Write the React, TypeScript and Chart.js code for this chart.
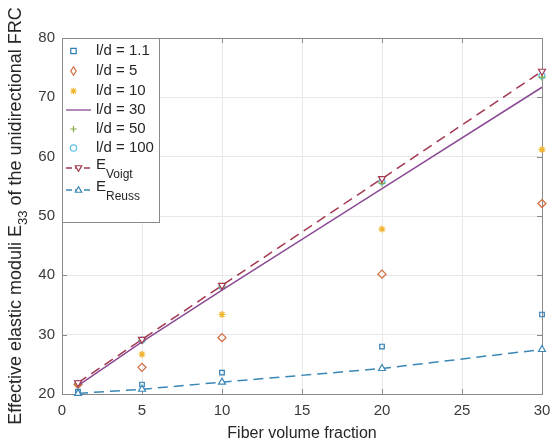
import React, { useEffect, useRef } from "react";
import { Chart, registerables } from "chart.js";

Chart.register(...registerables);

const fraction = [1, 5, 10, 20, 30];
const ld1_1 = [20.4, 21.6, 23.6, 28.0, 33.4];
const ld5 = [21.6, 24.5, 29.5, 40.2, 52.1];
const ld10 = [21.7, 26.7, 33.4, 47.8, 61.2];
const ld30 = [21.4, 28.8, 37.5, 54.6, 71.7];
const ld50 = [21.7, 29.0, 38.0, 55.5, 73.4];
const ld100 = [21.8, 29.1, 38.1, 55.8, 73.6];
const voigt = [21.9, 29.2, 38.3, 56.3, 74.4];
const reuss = [20.1, 20.8, 22.0, 24.3, 27.5];
const xTicks = [0, 5, 10, 15, 20, 25, 30];
const yTicks = [20, 30, 40, 50, 60, 70, 80];

const C_BLUE = "#2b7db5";
const C_ORANGE = "#d2683b";
const C_YELLOW = "#efb52d";
const C_PURPLE = "#8a4a94";
const C_GREEN = "#84ad45";
const C_LBLUE = "#5ec0e6";
const C_RED = "#a2394f";
const C_REUSS = "#3a87b5";

const FONT = "'Liberation Sans', Arial, Helvetica, sans-serif";

const pts = (ys: number[]) => fraction.map((x, i) => ({ x, y: ys[i] }));

type Item = { label: string; sub?: string; color: string; marker?: string; line?: boolean; dash?: boolean };
const legendItems: Item[] = [
  { label: "l/d = 1.1", color: C_BLUE, marker: "square" },
  { label: "l/d = 5", color: C_ORANGE, marker: "diamond" },
  { label: "l/d = 10", color: C_YELLOW, marker: "star" },
  { label: "l/d = 30", color: C_PURPLE, line: true },
  { label: "l/d = 50", color: C_GREEN, marker: "plus" },
  { label: "l/d = 100", color: C_LBLUE, marker: "circle" },
  { label: "E", sub: "Voigt", color: C_RED, marker: "tridown", line: true, dash: true },
  { label: "E", sub: "Reuss", color: C_REUSS, marker: "triup", line: true, dash: true },
];

function drawMarker(ctx: CanvasRenderingContext2D, kind: string, x: number, y: number, color: string) {
  ctx.save();
  ctx.strokeStyle = color;
  ctx.lineWidth = 1.2;
  ctx.setLineDash([]);
  ctx.beginPath();
  const r = 3.2;
  if (kind === "square") ctx.rect(x - r + 0.5, y - r + 0.5, 2 * r - 1, 2 * r - 1);
  else if (kind === "diamond") {
    ctx.moveTo(x, y - r - 1); ctx.lineTo(x + r - 0.5, y); ctx.lineTo(x, y + r + 1); ctx.lineTo(x - r + 0.5, y); ctx.closePath();
  } else if (kind === "star") {
    for (let a = 0; a < 4; a++) {
      const t = (a * Math.PI) / 4;
      ctx.moveTo(x - r * Math.cos(t), y - r * Math.sin(t));
      ctx.lineTo(x + r * Math.cos(t), y + r * Math.sin(t));
    }
  } else if (kind === "plus") {
    ctx.moveTo(x - r, y); ctx.lineTo(x + r, y); ctx.moveTo(x, y - r); ctx.lineTo(x, y + r);
  } else if (kind === "circle") ctx.arc(x, y, r, 0, Math.PI * 2);
  else if (kind === "tridown") {
    ctx.moveTo(x - r, y - r * 0.7); ctx.lineTo(x + r, y - r * 0.7); ctx.lineTo(x, y + r); ctx.closePath();
    ctx.fillStyle = "#fff"; ctx.fill();
  } else if (kind === "triup") {
    ctx.moveTo(x - r, y + r * 0.7); ctx.lineTo(x + r, y + r * 0.7); ctx.lineTo(x, y - r); ctx.closePath();
    ctx.fillStyle = "#fff"; ctx.fill();
  }
  ctx.stroke();
  ctx.restore();
}

const decorPlugin = {
  id: "decor",
  beforeDatasetsDraw(chart: any) {
    const ctx: CanvasRenderingContext2D = chart.ctx;
    const a = chart.chartArea;
    const xs = chart.scales.x;
    const ys = chart.scales.y;
    ctx.save();
    ctx.strokeStyle = "#8a8a8a";
    ctx.lineWidth = 1;
    ctx.strokeRect(Math.round(a.left) + 0.5, Math.round(a.top) + 0.5, Math.round(a.right - a.left), Math.round(a.bottom - a.top));
    ctx.beginPath();
    xTicks.forEach((v) => {
      const px = Math.round(xs.getPixelForValue(v)) + 0.5;
      ctx.moveTo(px, a.bottom); ctx.lineTo(px, a.bottom - 5);
      ctx.moveTo(px, a.top); ctx.lineTo(px, a.top + 5);
    });
    yTicks.forEach((v) => {
      const py = Math.round(ys.getPixelForValue(v)) + 0.5;
      ctx.moveTo(a.left, py); ctx.lineTo(a.left + 5, py);
      ctx.moveTo(a.right, py); ctx.lineTo(a.right - 5, py);
    });
    ctx.stroke();
    ctx.restore();
  },
  afterDatasetsDraw(chart: any) {
    const ctx: CanvasRenderingContext2D = chart.ctx;
    const a = chart.chartArea;
    ctx.save();
    // legend
    const lx = Math.round(a.left) + 0.5;
    const ly = Math.round(a.top) + 0.5;
    const lw = 97;
    const lh = 184;
    ctx.fillStyle = "#fff";
    ctx.fillRect(lx, ly, lw, lh);
    ctx.strokeStyle = "#8a8a8a";
    ctx.lineWidth = 1;
    ctx.strokeRect(lx, ly, lw, lh);
    const rowsY = [51, 71, 91, 110, 129, 148, 168, 190];
    legendItems.forEach((it, i) => {
      const y = rowsY[i];
      if (it.line) {
        ctx.save();
        ctx.strokeStyle = it.color;
        ctx.lineWidth = 1.3;
        ctx.setLineDash(it.dash ? [6, 3] : []);
        ctx.beginPath();
        ctx.moveTo(66, y); ctx.lineTo(91, y);
        ctx.stroke();
        ctx.restore();
        if (it.marker) drawMarker(ctx, it.marker, 78.5, y, it.color);
      } else if (it.marker) {
        drawMarker(ctx, it.marker, 73.5, y, it.color);
      }
      ctx.fillStyle = "#262626";
      ctx.textBaseline = "middle";
      ctx.textAlign = "left";
      ctx.font = `15px ${FONT}`;
      if (it.sub) {
        ctx.fillText(it.label, 96, y - 3);
        const w = ctx.measureText(it.label).width;
        ctx.font = `12px ${FONT}`;
        ctx.fillText(it.sub, 96 + w, y + 7);
      } else {
        ctx.fillText(it.label, 96, y);
      }
    });

    // y axis title with subscript
    const p1 = "Effective elastic moduli E";
    const p2 = "33";
    const p3 = " of the unidirectional FRC";
    ctx.font = `18px ${FONT}`;
    const w1 = ctx.measureText(p1).width;
    const w3 = ctx.measureText(p3).width;
    ctx.font = `13px ${FONT}`;
    const w2 = ctx.measureText(p2).width;
    const total = w1 + w2 + w3;
    ctx.translate(16, (a.top + a.bottom) / 2);
    ctx.rotate(-Math.PI / 2);
    ctx.fillStyle = "#262626";
    ctx.textBaseline = "middle";
    ctx.textAlign = "left";
    let cx = -total / 2;
    ctx.font = `18px ${FONT}`;
    ctx.fillText(p1, cx, 0);
    cx += w1;
    ctx.font = `13px ${FONT}`;
    ctx.fillText(p2, cx, 7);
    cx += w2;
    ctx.font = `18px ${FONT}`;
    ctx.fillText(p3, cx, 0);
    ctx.restore();
  },
};

export default function App() {
  const ref = useRef<HTMLCanvasElement | null>(null);
  useEffect(() => {
    if (!ref.current) return;
    const markerDs = (label: string, data: number[], color: string, style: any, extra: any = {}) => ({
      label,
      data: pts(data),
      showLine: false,
      clip: false,
      borderColor: color,
      backgroundColor: "rgba(0,0,0,0)",
      pointStyle: style,
      pointRadius: 3.5,
      pointBorderWidth: 1.2,
      ...extra,
    });
    const chart = new Chart(ref.current, {
      type: "scatter",
      data: {
        datasets: [
          {
            label: "E Reuss",
            data: pts(reuss),
            showLine: true,
            clip: false,
            borderColor: C_REUSS,
            borderWidth: 1.5,
            borderDash: [10, 6],
            backgroundColor: "#fff",
            pointStyle: "triangle",
            pointRadius: 4,
            pointBorderWidth: 1.2,
          },
          {
            label: "E Voigt",
            data: pts(voigt),
            showLine: true,
            clip: false,
            borderColor: C_RED,
            borderWidth: 1.5,
            borderDash: [10, 6],
            backgroundColor: "#fff",
            pointStyle: "triangle",
            rotation: 180,
            pointRadius: 4,
            pointBorderWidth: 1.2,
          },
          {
            label: "l/d = 30",
            data: pts(ld30),
            showLine: true,
            clip: false,
            borderColor: C_PURPLE,
            borderWidth: 1.5,
            pointRadius: 0,
          },
          markerDs("l/d = 1.1", ld1_1, C_BLUE, "rect", { pointRadius: 3.2 }),
          markerDs("l/d = 5", ld5, C_ORANGE, "rectRot", { pointRadius: 4 }),
          markerDs("l/d = 10", ld10, C_YELLOW, "star"),
          markerDs("l/d = 50", ld50, C_GREEN, "cross"),
          markerDs("l/d = 100", ld100, C_LBLUE, "circle", { pointRadius: 3 }),
        ] as any,
      },
      options: {
        responsive: false,
        animation: false,
        devicePixelRatio: 1,
        layout: { padding: { top: 38, right: 12, left: 0, bottom: 0 } },
        plugins: { legend: { display: false }, tooltip: { enabled: false }, title: { display: false } },
        scales: {
          x: {
            type: "linear",
            min: 0,
            max: 30,
            afterBuildTicks: (s: any) => { s.ticks = xTicks.map((v) => ({ value: v })); },
            afterFit: (s: any) => { s.height = 49; s.paddingLeft = 0; s.paddingRight = 0; },
            grid: { color: "#e8e8e8", drawTicks: false },
            border: { display: false },
            ticks: { color: "#3a3a3a", font: { family: FONT, size: 15 }, padding: 8 },
            title: { display: true, text: "Fiber volume fraction", color: "#262626", font: { family: FONT, size: 16 }, padding: { top: 0, bottom: 0 } },
          },
          y: {
            type: "linear",
            min: 20,
            max: 80,
            afterBuildTicks: (s: any) => { s.ticks = yTicks.map((v) => ({ value: v })); },
            afterFit: (s: any) => { s.width = 62; s.paddingTop = 0; s.paddingBottom = 0; },
            grid: { color: "#e8e8e8", drawTicks: false },
            border: { display: false },
            ticks: { color: "#3a3a3a", font: { family: FONT, size: 15 }, padding: 7 },
          },
        },
      } as any,
      plugins: [decorPlugin],
    });
    return () => chart.destroy();
  }, []);
  return (
    <div style={{ position: "absolute", left: 0, top: 0, width: 554, height: 443, background: "#fff" }}>
      <canvas ref={ref} width={554} height={443} style={{ width: 554, height: 443 }} />
    </div>
  );
}
